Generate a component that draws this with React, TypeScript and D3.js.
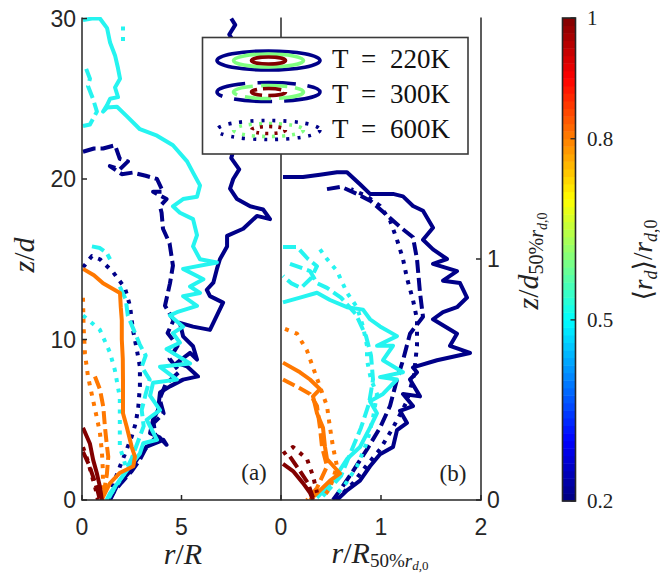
import React from 'react';
import * as d3 from 'd3';

type P = [number, number];
const N = NaN;

// ---------- Panel (a): r/R vs z/d ----------
const navy220A: P[] = [[1.41,0],[1.74,0.83],[2.33,1.67],[2.75,2.5],[3.25,3.33],[4.09,3.75],[4.25,3.44],[3.9,3.9],[3.42,4.17],[3.57,5.0],[3.82,5.6],[3.92,6.7],[4.42,7.08],[5.08,7.5],[5.83,7.7],[5.27,8.33],[4.77,8.54],[5.43,9.17],[5.78,8.75],[5.58,9.58],[5.08,10.2],[4.92,11.04],[5.58,10.8],[6.43,10.6],[7.09,12.3],[6.43,12.7],[6.27,13.1],[6.6,13.54],[6.78,14.4],[6.93,15],[7.29,15.8],[7.29,16.46],[8.1,16.9],[8.79,17.7],[9.45,17.5],[9.1,18.1],[8.45,18.3],[7.79,18.75],[7.44,19.4],[7.6,20],[7.9,20.6],[7.5,21.3],[7.7,22.2],[7.4,23.5],[7.6,25],[7.5,27],[7.8,28.2],[7.4,29.0],[7.7,29.6],[7.5,30]];
const navy300A: P[] = [[0.05,21.7],[0.6,21.9],[1.06,21.9],[1.66,22.1],[1.9,21.25],[2.31,21.1],[1.9,20.6],[1.4,20.8],[2.0,20.3],[2.56,20.4],[3.2,20.2],[3.77,20],[4.07,19.2],[3.57,19.2],[4.25,18.75],[3.92,18.3],[4.0,17.9],[4.07,16.9],[4.4,16],[4.57,14.6],[4.42,13.5],[4.17,12.1],[4.6,11.2],[4.3,10.4],[4.8,9.6],[4.4,8.8],[4.9,8.0],[4.2,7.2],[3.9,6.3],[4.1,5.4],[3.6,4.8],[3.7,3.9],[3.2,3.2],[2.9,2.5],[2.5,1.8],[2.0,1.1],[1.6,0.5],[1.35,0]];
const navy600A: P[] = [[0.05,14.5],[0.5,15.2],[0.9,15],[1.56,14.2],[2.16,13.2],[2.41,12.1],[2.56,10.6],[2.75,9.4],[2.91,8.3],[2.91,7.1],[2.83,5.8],[2.7,4.8],[2.5,3.96],[2.2,3.0],[1.91,2.1],[1.6,1.1],[1.4,0.3]];
const cyan220A: P[] = [[0.05,29.9],[0.5,30],[0.9,30],[1.26,29.4],[1.41,28.5],[1.66,27.7],[1.81,26.9],[1.91,26.25],[1.66,25.7],[1.81,25.1],[1.41,25],[1.26,24.6],[1.06,24.2],[1.26,24.45],[1.76,24.5],[2.26,23.9],[2.91,23.1],[3.77,22.7],[4.57,22.1],[5.28,21.1],[5.58,20.4],[5.93,19.6],[5.78,18.9],[5.08,18.75],[4.57,18.3],[4.92,17.9],[5.58,17.5],[5.78,16.5],[5.58,15.8],[5.93,15],[6.78,14.8],[5.08,14.4],[6.1,13.75],[5.43,13.3],[5.93,12.9],[5.08,12.7],[5.78,12.1],[4.77,11.7],[4.42,11.5],[5.08,10.8],[4.57,10.4],[4.92,9.8],[4.25,9.4],[5.43,8.5],[3.92,8.3],[4.77,7.5],[3.57,7.3],[3.42,6.5],[3.92,5.6],[3.25,5.0],[3.77,3.75],[3.08,3.54],[2.91,2.9],[2.41,2.1],[1.91,1.25],[1.41,0.42],[1.24,0]];
const cyan300A: P[] = [[0.05,23.3],[0.4,23.4],[0.75,24.2],[0.55,25.0],[0.3,25.8],[0.4,26.25],[0.2,26.9],[N,N],[0.5,15.8],[0.9,15.7],[1.24,15.4],[1.41,15.0],[N,N],[1.9,13.3],[2.2,12.5],[2.3,11.5],[2.6,10.6],[2.9,9.7],[3.2,9.0],[3.0,8.3],[3.4,7.5],[3.2,6.6],[3.0,5.6],[3.1,4.6],[2.8,3.6],[2.5,2.6],[2.1,1.6],[1.6,0.7],[1.3,0]];
const cyan600A: P[] = [[2.06,29.5],[2.06,28.6],[N,N],[0.05,11.5],[0.9,10.6],[1.4,9.2],[1.65,8.1],[1.9,6.4],[1.9,5.0],[1.9,3.3],[2.2,2.1],[1.9,1.2],[1.35,0.2]];
const orange220A: P[] = [[0.05,14.4],[0.6,14.0],[1.06,13.5],[1.91,12.9],[1.95,12.0],[2.0,11.2],[2.0,10.0],[2.05,8.8],[2.06,7.5],[2.06,6.2],[2.06,5.4],[2.24,4.6],[2.5,3.3],[2.66,2.7],[2.58,2.1],[1.91,1.7],[1.4,1.04],[1.06,0.2],[1.0,0]];
const orange300A: P[] = [[0.65,7.7],[0.9,6.9],[1.07,5.8],[1.15,4.6],[1.24,3.5],[1.32,2.7],[1.25,1.6],[1.1,0.5],[1.05,0]];
const orange600A: P[] = [[0.05,12.6],[0.08,10.8],[0.15,9.1],[0.3,7.7],[0.55,6.25],[0.75,5.1],[0.9,4.2],[1.0,3.0],[1.05,1.8],[1.05,0.6]];
const red220A: P[] = [[0.05,4.5],[0.4,3.5],[0.56,2.5],[0.74,1.7],[0.9,0.83],[1.0,0]];
const red300A: P[] = [[0.05,3.0],[0.35,2.2],[0.6,1.3],[0.8,0.5],[0.9,0]];
const red600A: P[] = [[0.05,3.3],[0.3,2.4],[0.5,1.5],[0.7,0.6],[0.8,0]];

// ---------- Panel (b): r/R50 vs z/d50 ----------
const navy220B: P[] = [[0.56,0],[0.66,0.04],[0.79,0.08],[0.89,0.14],[0.99,0.19],[1.12,0.22],[1.16,0.29],[1.26,0.32],[1.19,0.37],[1.32,0.39],[1.22,0.44],[1.39,0.43],[1.29,0.5],[1.36,0.53],[1.32,0.55],[1.56,0.58],[1.89,0.61],[1.69,0.64],[1.76,0.69],[1.52,0.75],[1.62,0.78],[1.76,0.8],[1.86,0.84],[1.79,0.9],[1.62,0.91],[1.76,0.95],[1.52,0.98],[1.66,1.0],[1.52,1.04],[1.42,1.08],[1.52,1.13],[1.42,1.2],[1.32,1.22],[1.22,1.26],[1.12,1.27],[0.89,1.27],[0.79,1.31],[0.66,1.36],[0.56,1.36],[0.39,1.35],[0.22,1.34],[0.02,1.34]];
const navy300B: P[] = [[0.46,1.29],[0.6,1.3],[0.76,1.27],[0.9,1.24],[1.09,1.17],[1.2,1.13],[1.32,1.09],[1.36,1.0],[1.39,0.86],[1.42,0.76],[1.29,0.69],[1.22,0.58],[1.16,0.5],[1.09,0.39],[0.99,0.3],[0.86,0.21],[0.72,0.12],[0.59,0.04],[0.52,0]];
const navy600B: P[] = [[0.55,0],[0.72,0.07],[0.85,0.14],[0.99,0.21],[1.12,0.3],[1.26,0.41],[1.33,0.52],[1.36,0.64],[1.36,0.75],[1.32,0.83],[1.26,0.92],[1.22,1.0],[1.16,1.08],[1.09,1.16],[0.99,1.22],[0.86,1.26],[0.7,1.29]];
const cyan220B: P[] = [[0.36,0.01],[0.52,0.08],[0.66,0.17],[0.79,0.22],[0.89,0.3],[0.96,0.36],[0.89,0.41],[1.02,0.44],[1.16,0.5],[0.99,0.51],[1.22,0.53],[1.02,0.58],[1.12,0.64],[0.96,0.64],[1.16,0.68],[0.99,0.72],[0.89,0.75],[0.82,0.79],[0.66,0.8],[0.49,0.83],[0.36,0.86],[0.19,0.84],[0.02,0.82]];
const cyan300B: P[] = [[0.02,1.05],[0.16,1.05],[0.27,1.0],[0.36,0.97],[0.3,0.92],[0.2,0.88],[0.1,0.9],[0.02,0.93],[N,N],[0.09,0.98],[0.29,0.95],[0.36,0.9],[0.46,0.88],[0.6,0.84],[0.75,0.77],[0.85,0.68],[0.9,0.6],[0.92,0.5],[0.88,0.4],[0.8,0.3],[0.7,0.2],[0.6,0.1],[0.45,0.03],[0.38,0]];
const cyan600B: P[] = [[0.39,1.04],[0.46,1.0],[0.56,0.95],[0.66,0.86],[0.76,0.8],[0.82,0.72],[0.86,0.64],[0.86,0.58],[0.9,0.5],[0.96,0.44],[0.92,0.34],[0.86,0.24],[0.76,0.14],[0.65,0.07],[0.55,0.02]];
const orange220B: P[] = [[0.02,0.57],[0.19,0.53],[0.29,0.5],[0.39,0.46],[0.32,0.43],[0.36,0.36],[0.42,0.3],[0.44,0.22],[0.46,0.17],[0.59,0.11],[0.49,0.08],[0.39,0.04],[0.29,0]];
const orange300B: P[] = [[0.02,0.5],[0.16,0.47],[0.29,0.44],[0.36,0.39],[0.39,0.3],[0.41,0.22],[0.46,0.14],[0.36,0.05],[0.26,0]];
const orange600B: P[] = [[0.04,0.71],[0.16,0.69],[0.26,0.62],[0.32,0.55],[0.39,0.47],[0.46,0.39],[0.49,0.3],[0.52,0.22],[0.56,0.14],[0.49,0.05],[0.42,0.01]];
const red220B: P[] = [[0.02,0.15],[0.12,0.12],[0.22,0.07],[0.29,0.03],[0.32,0]];
const red300B: P[] = [[0.09,0.18],[0.19,0.12],[0.27,0.07],[0.32,0.01]];
const red600B: P[] = [[0.02,0.19],[0.12,0.22],[0.26,0.17],[0.32,0.1],[0.36,0.03]];

// ---------- ticks / legend ----------
const ticksA_y = [0, 10, 20, 30];
const ticksA_x = [0, 5];
const ticksB_x = [0, 1, 2];
const ticksB_y = [0, 1];
const cbTicks = [0.2, 0.5, 0.8, 1];
const legendLabels = ['T = 220K', 'T = 300K', 'T = 600K'];

const NAVY = '#000088';
const CYAN = '#25f4f0';
const ORANGE = '#ff7800';
const DARKRED = '#820000';
const GREEN = '#80ff80';
const AX = '#262626';

const xA = d3.scaleLinear().domain([0, 10]).range([82, 281]);
const yA = d3.scaleLinear().domain([0, 30]).range([500, 18.5]);
const xB = d3.scaleLinear().domain([0, 2]).range([281, 481]);
const yB = d3.scaleLinear().domain([0, 1]).range([500, 259]);
const cbY = d3.scaleLinear().domain([0.2, 1]).range([501, 18]);

function jet(t: number) {
  const c = (v: number) => Math.max(0, Math.min(1, v));
  const r = c(1.5 - Math.abs(4 * t - 3));
  const g = c(1.5 - Math.abs(4 * t - 2));
  const b = c(1.5 - Math.abs(4 * t - 1));
  return d3.rgb(r * 255, g * 255, b * 255).toString();
}

const styles: Record<string, string | undefined> = {
  solid: undefined,
  dashed: '13,5',
  dotted: '4,6.5',
};

const seriesA = [
  { d: navy600A, c: NAVY, s: 'dotted' },
  { d: navy300A, c: NAVY, s: 'dashed' },
  { d: navy220A, c: NAVY, s: 'solid' },
  { d: cyan600A, c: CYAN, s: 'dotted' },
  { d: cyan300A, c: CYAN, s: 'dashed' },
  { d: cyan220A, c: CYAN, s: 'solid' },
  { d: orange600A, c: ORANGE, s: 'dotted' },
  { d: orange300A, c: ORANGE, s: 'dashed' },
  { d: orange220A, c: ORANGE, s: 'solid' },
  { d: red600A, c: DARKRED, s: 'dotted' },
  { d: red300A, c: DARKRED, s: 'dashed' },
  { d: red220A, c: DARKRED, s: 'solid' },
];
const seriesB = [
  { d: navy600B, c: NAVY, s: 'dotted' },
  { d: navy300B, c: NAVY, s: 'dashed' },
  { d: navy220B, c: NAVY, s: 'solid' },
  { d: cyan600B, c: CYAN, s: 'dotted' },
  { d: cyan300B, c: CYAN, s: 'dashed' },
  { d: cyan220B, c: CYAN, s: 'solid' },
  { d: orange600B, c: ORANGE, s: 'dotted' },
  { d: orange300B, c: ORANGE, s: 'dashed' },
  { d: orange220B, c: ORANGE, s: 'solid' },
  { d: red600B, c: DARKRED, s: 'dotted' },
  { d: red300B, c: DARKRED, s: 'dashed' },
  { d: red220B, c: DARKRED, s: 'solid' },
];

const SANS = 'Liberation Sans, Arial, Helvetica, sans-serif';
const SERIF = 'Liberation Serif, Times New Roman, DejaVu Serif, Noto Serif, serif';
const serif = { fontFamily: SERIF };

export default function App() {
  const lineA = d3.line<P>().defined(p => !isNaN(p[0])).x(p => xA(p[0])).y(p => yA(p[1]));
  const lineB = d3.line<P>().defined(p => !isNaN(p[0])).x(p => xB(p[0])).y(p => yB(p[1]));
  const bands = d3.range(64);
  const bandH = (501 - 18) / 64;
  const legendRows = [60.5, 92, 130];
  const iconStyles = [undefined, ['38,12', '26,8', '18,6'], ['3,8', '3,7', '3,6']];

  return (
    <div style={{ position: 'absolute', left: 0, top: 0 }}>
      <svg width={660} height={576} style={{ display: 'block', background: '#fff' }}>
        <defs>
          <clipPath id="clipA"><rect x={82} y={17} width={199} height={483} /></clipPath>
          <clipPath id="clipB"><rect x={281} y={17} width={200} height={483} /></clipPath>
        </defs>
        <g clipPath="url(#clipA)">
          {seriesA.map((s, i) => (
            <path key={i} d={lineA(s.d) || ''} fill="none" stroke={s.c} strokeWidth={4}
              strokeDasharray={styles[s.s]} strokeLinejoin="round" />
          ))}
        </g>
        <g clipPath="url(#clipB)">
          {seriesB.map((s, i) => (
            <path key={i} d={lineB(s.d) || ''} fill="none" stroke={s.c} strokeWidth={4}
              strokeDasharray={styles[s.s]} strokeLinejoin="round" />
          ))}
        </g>

        {/* axes */}
        <g stroke={AX} strokeWidth={1.5} fill="none">
          <line x1={82} y1={17.5} x2={82} y2={500.5} />
          <line x1={281} y1={17.5} x2={281} y2={500.5} />
          <line x1={481} y1={17.5} x2={481} y2={500.5} />
          <line x1={81.5} y1={500} x2={481.5} y2={500} />
          {ticksA_y.map(t => <line key={'ay' + t} x1={82} x2={87} y1={yA(t)} y2={yA(t)} />)}
          {ticksA_x.map(t => <line key={'ax' + t} x1={xA(t)} x2={xA(t)} y1={500} y2={495} />)}
          {ticksB_x.map(t => <line key={'bx' + t} x1={xB(t)} x2={xB(t)} y1={500} y2={495} />)}
          {ticksB_y.map(t => <line key={'by' + t} x1={476} x2={481} y1={yB(t)} y2={yB(t)} />)}
        </g>
        <g style={{ fontFamily: SANS }} fontSize={23} fill={AX}>
          {ticksA_y.map(t => (
            <text key={'tay' + t} x={76} y={yA(t)} textAnchor="end" dominantBaseline="central">{t}</text>
          ))}
          {ticksA_x.map(t => (
            <text key={'tax' + t} x={xA(t)} y={527} textAnchor="middle" dominantBaseline="central">{t}</text>
          ))}
          {ticksB_x.map(t => (
            <text key={'tbx' + t} x={xB(t)} y={527} textAnchor="middle" dominantBaseline="central">{t}</text>
          ))}
          {ticksB_y.map(t => (
            <text key={'tby' + t} x={487} y={yB(t)} textAnchor="start" dominantBaseline="central">{t}</text>
          ))}
        </g>

        {/* panel labels */}
        <text x={254} y={480} textAnchor="middle" style={serif} fontSize={23} fill="#222">(a)</text>
        <text x={453} y={481} textAnchor="middle" style={serif} fontSize={23} fill="#222">(b)</text>

        {/* axis labels */}
        <g style={serif} fill="#222">
          <text transform="translate(34,255) rotate(-90)" textAnchor="middle" fontSize={30}>
            <tspan fontStyle="italic">z</tspan><tspan>/</tspan><tspan fontStyle="italic">d</tspan>
          </text>
          <text x={183} y={564} textAnchor="middle" fontSize={30}>
            <tspan fontStyle="italic">r</tspan><tspan>/</tspan><tspan fontStyle="italic">R</tspan>
          </text>
          <text x={380} y={563} textAnchor="middle" fontSize={30}>
            <tspan fontStyle="italic">r</tspan><tspan>/</tspan><tspan fontStyle="italic">R</tspan>
            <tspan fontSize={19} dy={4}>50%</tspan><tspan fontSize={19} fontStyle="italic">r</tspan>
            <tspan fontSize={13} dy={3} fontStyle="italic">d</tspan><tspan fontSize={13}>,0</tspan>
          </text>
          <text transform="translate(538,261) rotate(-90)" textAnchor="middle" fontSize={30}>
            <tspan fontStyle="italic">z</tspan><tspan>/</tspan><tspan fontStyle="italic">d</tspan>
            <tspan fontSize={20} dy={5}>50%</tspan><tspan fontSize={20} fontStyle="italic">r</tspan>
            <tspan fontSize={14} dy={4} fontStyle="italic">d</tspan><tspan fontSize={14}>,0</tspan>
          </text>
          <text transform="translate(652,260) rotate(-90)" textAnchor="middle" fontSize={27}>
            <tspan>⟨</tspan><tspan fontStyle="italic">r</tspan>
            <tspan fontSize={18} dy={5} fontStyle="italic">d</tspan>
            <tspan dy={-5}>⟩/</tspan><tspan fontStyle="italic">r</tspan>
            <tspan fontSize={18} dy={5} fontStyle="italic">d</tspan><tspan fontSize={18}>,0</tspan>
          </text>
        </g>

        {/* legend */}
        <rect x={202.5} y={37.5} width={265.5} height={116.5} fill="#fff" stroke="#3a3a3a" strokeWidth={1.6} />
        {legendLabels.map((lab, i) => {
          const cy = legendRows[i];
          const st = iconStyles[i];
          const ys = [67.7, 103, 138][i];
          const parts = lab.split(' ');
          return (
            <g key={lab}>
              <ellipse cx={268.5} cy={cy} rx={51.5} ry={9.5} fill="none" stroke={NAVY} strokeWidth={3.6}
                strokeDasharray={st ? st[0] : undefined} />
              <ellipse cx={268.5} cy={cy} rx={35} ry={6.5} fill="none" stroke={GREEN} strokeWidth={3.6}
                strokeDasharray={st ? st[1] : undefined} />
              <ellipse cx={268.5} cy={cy} rx={17} ry={3.5} fill="none" stroke={DARKRED} strokeWidth={3.6}
                strokeDasharray={st ? st[2] : undefined} />
              <g style={serif} fontSize={27} fill="#111">
                <text x={332} y={ys}>{parts[0]}</text>
                <text x={361} y={ys}>{parts[1]}</text>
                <text x={390} y={ys}>{parts[2]}</text>
              </g>
            </g>
          );
        })}

        {/* colorbar */}
        {bands.map(i => (
          <rect key={i} x={562.5} y={501 - (i + 1) * bandH} width={13} height={bandH + 0.5}
            fill={jet((i + 0.5) / 64)} />
        ))}
        <rect x={562.5} y={18} width={13} height={483} fill="none" stroke={AX} strokeWidth={1.6} />
        {cbTicks.map(t => (
          <g key={'cb' + t}>
            <line x1={570.5} x2={575.5} y1={cbY(t)} y2={cbY(t)} stroke={AX} strokeWidth={1.3} />
            <text x={587} y={cbY(t)} dominantBaseline="central" style={serif} fontSize={21} fill="#222">{t}</text>
          </g>
        ))}
      </svg>
    </div>
  );
}
